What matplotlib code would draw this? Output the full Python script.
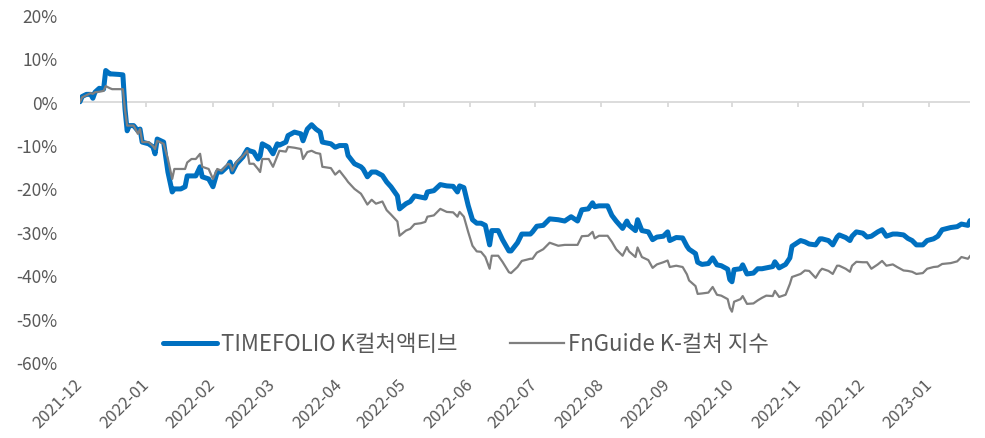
import pandas as pd
import matplotlib
matplotlib.use('Agg')
import matplotlib.pyplot as plt
import matplotlib.dates as mdates
from matplotlib.ticker import MultipleLocator, FuncFormatter

# ---------- 폰트 ----------
plt.rcParams['font.family'] = ['Noto Sans CJK KR', 'DejaVu Sans']
plt.rcParams['axes.unicode_minus'] = False

# ---------- 데이터 (누적수익률, %) ----------
dates = [
    "2021-12-01", "2021-12-02", "2021-12-04", "2021-12-06", "2021-12-07", "2021-12-08", "2021-12-10",
    "2021-12-12", "2021-12-13", "2021-12-15", "2021-12-16", "2021-12-19", "2021-12-21", "2021-12-22",
    "2021-12-23", "2021-12-24", "2021-12-26", "2021-12-28", "2021-12-29", "2021-12-30",
    "2022-01-02", "2022-01-04", "2022-01-05", "2022-01-06", "2022-01-09", "2022-01-11", "2022-01-13",
    "2022-01-14", "2022-01-17", "2022-01-19", "2022-01-20", "2022-01-22", "2022-01-24", "2022-01-26",
    "2022-01-27", "2022-01-30",
    "2022-02-01", "2022-02-03", "2022-02-05", "2022-02-08", "2022-02-09", "2022-02-10", "2022-02-12",
    "2022-02-15", "2022-02-17", "2022-02-18", "2022-02-20", "2022-02-22", "2022-02-23", "2022-02-24",
    "2022-02-27",
    "2022-03-01", "2022-03-03", "2022-03-04", "2022-03-07", "2022-03-08", "2022-03-11", "2022-03-14",
    "2022-03-15", "2022-03-17", "2022-03-19", "2022-03-21", "2022-03-23", "2022-03-24", "2022-03-28",
    "2022-03-30",
    "2022-04-01", "2022-04-04", "2022-04-05", "2022-04-08", "2022-04-11", "2022-04-12", "2022-04-14",
    "2022-04-16", "2022-04-18", "2022-04-21", "2022-04-23", "2022-04-25", "2022-04-28", "2022-04-29",
    "2022-05-02", "2022-05-04", "2022-05-06", "2022-05-09", "2022-05-11", "2022-05-12", "2022-05-15",
    "2022-05-18", "2022-05-21", "2022-05-24", "2022-05-26", "2022-05-27", "2022-05-29", "2022-05-31",
    "2022-06-02", "2022-06-04", "2022-06-06", "2022-06-08", "2022-06-10", "2022-06-11", "2022-06-14",
    "2022-06-16", "2022-06-19", "2022-06-20", "2022-06-23", "2022-06-25", "2022-06-29", "2022-06-30",
    "2022-07-02", "2022-07-05", "2022-07-08", "2022-07-12", "2022-07-15", "2022-07-18", "2022-07-21",
    "2022-07-23", "2022-07-26", "2022-07-28", "2022-07-29", "2022-07-31",
    "2022-08-04", "2022-08-06", "2022-08-08", "2022-08-11", "2022-08-13", "2022-08-14", "2022-08-17",
    "2022-08-18", "2022-08-20", "2022-08-23", "2022-08-25", "2022-08-27", "2022-08-30",
    "2022-09-01", "2022-09-02", "2022-09-05", "2022-09-08", "2022-09-10", "2022-09-11", "2022-09-14",
    "2022-09-15", "2022-09-17", "2022-09-20", "2022-09-22", "2022-09-24", "2022-09-26", "2022-09-29",
    "2022-09-30",
    "2022-10-01", "2022-10-02", "2022-10-05", "2022-10-06", "2022-10-08", "2022-10-11", "2022-10-13",
    "2022-10-15", "2022-10-17", "2022-10-20", "2022-10-21", "2022-10-23", "2022-10-26", "2022-10-28",
    "2022-10-29",
    "2022-11-02", "2022-11-04", "2022-11-06", "2022-11-09", "2022-11-11", "2022-11-12", "2022-11-15",
    "2022-11-17", "2022-11-19", "2022-11-20", "2022-11-23", "2022-11-25", "2022-11-26", "2022-11-28",
    "2022-12-01", "2022-12-03", "2022-12-05", "2022-12-08", "2022-12-10", "2022-12-12", "2022-12-15",
    "2022-12-17", "2022-12-20", "2022-12-22", "2022-12-24", "2022-12-26", "2022-12-29", "2022-12-31",
    "2023-01-03", "2023-01-05", "2023-01-07", "2023-01-11", "2023-01-14", "2023-01-16", "2023-01-19",
    "2023-01-20",
]

timefolio = [
    0, 1.2, 1.7, 1.7, 0.8, 2.2, 3.1, 2.9, 7.2, 6.4, 6.4, 6.3, 6.2, -1.7, -6.7, -5.5, -5.5, -6.7, -6.3, -9.3,
    -9.7, -10.4, -12.0, -8.6, -9.3, -16.2, -20.8, -20.1, -20.1, -19.6, -17.1, -17.1, -17.1, -15.0, -17.3, -17.8,
    -19.6, -16.2, -16.2, -14.8, -13.9, -16.2, -14.3, -12.7, -11.0, -11.3, -11.6, -13.2, -12.5, -9.7, -10.5,
    -12.0, -9.7, -10.0, -9.3, -7.8, -7.0, -7.4, -9.0, -6.3, -5.3, -6.3, -7.0, -9.3, -9.7, -10.5,
    -10.1, -10.1, -12.4, -14.3, -15.0, -15.5, -17.3, -16.2, -16.2, -17.0, -18.5, -19.6, -21.7, -24.7,
    -23.5, -23.0, -21.7, -22.0, -22.2, -20.8, -20.5, -19.1, -19.4, -19.5, -20.8, -19.4, -19.8, -23.9,
    -27.2, -28.0, -28.0, -28.5, -33.0, -29.7, -29.7, -31.8, -34.4, -34.4, -32.5, -30.5, -30.5, -30.0,
    -28.7, -28.5, -27.0, -27.2, -27.5, -26.5, -27.5, -24.9, -24.7, -23.3, -24.2, -24.0,
    -24.0, -26.2, -27.5, -29.2, -27.5, -28.5, -29.7, -27.2, -29.7, -30.0, -31.8, -31.2, -31.0,
    -30.0, -32.0, -31.3, -31.4, -33.3, -34.0, -35.0, -37.0, -37.5, -37.3, -36.0, -37.6, -37.8, -38.6, -41.0,
    -41.5, -38.7, -38.5, -37.6, -39.7, -39.5, -38.5, -38.5, -38.3, -38.0, -36.9, -38.3, -37.5, -36.0, -33.3,
    -32.0, -32.3, -32.8, -33.0, -31.6, -31.6, -32.0, -33.0, -31.2, -30.7, -31.3, -32.0, -31.0, -30.0,
    -30.3, -31.2, -31.0, -30.0, -29.5, -31.0, -30.5, -30.5, -30.7, -31.5, -32.0, -33.0, -33.0, -32.0,
    -31.6, -31.0, -29.5, -29.0, -28.8, -28.2, -28.5, -27.4,
]

fnguide = [
    0, 1.0, 1.5, 2.0, 1.8, 2.2, 2.3, 2.5, 3.6, 3.1, 2.9, 2.9, 2.9, -2.0, -5.5, -5.5, -5.5, -7.4, -6.3, -9.3,
    -9.3, -10.2, -10.9, -9.0, -9.7, -13.2, -17.8, -15.5, -15.5, -15.5, -14.0, -13.2, -13.2, -12.0, -15.0, -15.5,
    -17.8, -15.5, -15.9, -14.3, -14.5, -15.9, -13.9, -12.5, -11.3, -14.3, -14.3, -15.5, -16.2, -13.2, -13.2,
    -15.0, -12.5, -11.3, -11.5, -10.4, -10.6, -10.9, -13.2, -11.6, -11.3, -11.8, -12.0, -15.0, -15.3, -16.8,
    -15.9, -17.8, -18.5, -20.1, -21.2, -22.0, -23.7, -22.6, -23.5, -23.0, -25.0, -26.0, -27.6, -30.9,
    -29.7, -29.3, -28.2, -28.0, -27.7, -26.5, -26.2, -24.7, -25.4, -25.5, -26.5, -25.4, -26.5, -30.0,
    -33.2, -34.5, -34.6, -35.8, -38.5, -35.5, -35.5, -36.9, -39.3, -39.5, -38.1, -36.7, -36.2, -36.2,
    -34.8, -34.0, -32.5, -33.2, -33.0, -33.0, -33.0, -31.0, -30.9, -30.0, -31.5, -30.9,
    -30.9, -32.3, -34.0, -35.5, -33.5, -34.5, -35.8, -33.6, -35.8, -36.5, -38.3, -37.5, -37.0,
    -36.6, -38.1, -37.8, -38.1, -39.8, -41.2, -42.5, -44.3, -44.2, -44.0, -42.7, -44.5, -44.7, -45.5, -47.5,
    -48.4, -46.1, -45.5, -44.8, -46.6, -46.5, -45.8, -45.2, -44.7, -44.8, -43.6, -45.0, -44.5, -42.0, -40.4,
    -39.7, -38.9, -39.0, -40.6, -39.0, -38.5, -39.0, -39.7, -37.8, -37.8, -38.5, -39.2, -37.8, -36.9,
    -37.0, -37.0, -38.5, -37.5, -36.7, -37.8, -37.5, -38.1, -38.9, -39.0, -39.2, -39.7, -39.5, -38.5,
    -38.1, -38.0, -37.4, -37.2, -36.8, -35.8, -36.2, -35.6,
]

labels = ["TIMEFOLIO K컬처액티브", "FnGuide K-컬처 지수"]

# ---------- 그리기 ----------
x = pd.to_datetime(dates)
text_color = '#595959'

fig = plt.figure(figsize=(9.85, 4.39), dpi=100)
ax = fig.add_axes([0.0812, 0.1731, 0.9036, 0.7905])

ax.plot(x, timefolio, color='#0070C0', linewidth=3.6,
        solid_joinstyle='round', solid_capstyle='round', label=labels[0], zorder=3)
ax.plot(x, fnguide, color='#7F7F7F', linewidth=1.6,
        solid_joinstyle='round', label=labels[1], zorder=4)

# 0% 기준선 + 월 눈금
ax.axhline(0, color='#D9D9D9', linewidth=1.3, zorder=1)
months = pd.date_range("2022-01-01", "2023-01-01", freq="MS")
ax.vlines(months, -1.1, 0, color='#D9D9D9', linewidth=1.3, zorder=1)

ax.set_xlim(pd.Timestamp("2021-12-01"), pd.Timestamp("2023-01-20"))
ax.set_ylim(-60, 20)
ax.yaxis.set_major_locator(MultipleLocator(10))
ax.yaxis.set_major_formatter(FuncFormatter(lambda v, p: f"{v:.0f}%"))

ax.xaxis.set_major_locator(mdates.MonthLocator())
ax.xaxis.set_major_formatter(mdates.DateFormatter('%Y-%m'))

for s in ax.spines.values():
    s.set_visible(False)

ax.tick_params(axis='y', length=0, pad=16, labelsize=12.5, labelcolor=text_color)
ax.tick_params(axis='x', length=0, pad=14, labelsize=12, labelcolor=text_color)
for lab in ax.get_xticklabels():
    lab.set_rotation(45)
    lab.set_ha('right')
    lab.set_va('center')
    lab.set_rotation_mode('anchor')

leg = ax.legend(loc='center', bbox_to_anchor=(0.434, 0.052), ncol=2, frameon=False,
                fontsize=16, handlelength=2.4, handletextpad=0.22, columnspacing=2.35,
                labelcolor=text_color)

fig.savefig('out.png', dpi=100)
